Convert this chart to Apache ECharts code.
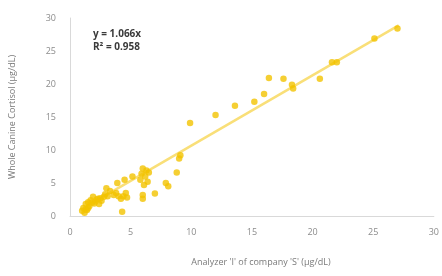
<!DOCTYPE html>
<html>
<head>
<meta charset="utf-8">
<script src="https://cdn.jsdelivr.net/npm/echarts@6/dist/echarts.min.js"></script>
<style>
  html, body { margin: 0; padding: 0; background: #fff; }
  #chart { width: 442px; height: 276px; }
</style>
</head>
<body>
<div id="chart"></div>
<script>
// x = analyzer 'I' (company 'S'), y = whole canine cortisol, ug/dL
var xVals = [
  27.0, 25.1, 21.6, 22.0, 20.6, 18.3, 18.4, 17.6, 16.4, 16.0, 15.2, 13.6, 12.0, 9.9,
  9.1, 9.0, 8.8, 7.9, 8.1, 7.0, 6.0, 6.0,
  6.0, 6.3, 5.9, 6.2, 6.5, 5.8, 6.4, 6.1, 5.15, 4.5, 3.9, 4.3,
  4.6, 4.7, 4.4, 3.8, 4.0, 4.2, 3.0, 3.3, 3.6, 2.9,
  1.9, 2.2, 2.5, 2.8, 2.4, 2.1, 2.6, 3.1,
  1.1, 1.3, 1.5, 1.7, 2.0, 1.2, 1.4, 1.6, 1.8, 1.3, 1.0, 1.5, 2.3
]
var yVals = [
  28.4, 26.9, 23.3, 23.3, 20.8, 19.9, 19.3, 20.8, 20.9, 18.5, 17.3, 16.7, 15.3, 14.1,
  9.2, 8.7, 6.6, 5.0, 4.5, 3.4, 3.2, 2.6,
  7.2, 6.9, 6.4, 6.0, 6.6, 5.5, 5.2, 4.7, 6.0, 5.5, 5.0, 0.65,
  3.5, 2.8, 3.0, 3.5, 3.0, 2.6, 4.2, 3.8, 3.2, 3.3,
  2.9, 2.5, 2.7, 2.9, 1.8, 2.2, 2.3, 3.0,
  1.2, 1.8, 2.1, 2.4, 1.9, 0.5, 0.9, 1.5, 2.0, 1.0, 0.8, 1.2, 2.6
]
var slope = 1.066
var r2 = 0.958
var trendX = [1.3, 27.1]
var xTicks = [0, 5, 10, 15, 20, 25, 30]
var yTicks = [0, 5, 10, 15, 20, 25, 30]

var points = xVals.map(function (x, i) { return [x, yVals[i]] })
var trend = trendX.map(function (x) { return [x, slope * x] })

var chart = echarts.init(document.getElementById('chart'))
chart.setOption({
  animation: false,
  grid: { left: 66, right: 7, top: 18, bottom: 60 },
  xAxis: {
    type: 'value',
    min: xTicks[0],
    max: xTicks[xTicks.length - 1],
    interval: 5,
    name: "Analyzer 'I' of company 'S' (\u00b5g/dL)",
    nameLocation: 'middle',
    nameGap: 42,
    nameTextStyle: { color: '#7a7a7a', fontSize: 9, fontFamily: 'Open Sans', padding: [0, 0, 0, 18] },
    axisLine: { lineStyle: { color: '#d9d9d9', width: 1 } },
    axisTick: { show: false },
    splitLine: { show: false },
    axisLabel: { color: '#8c8c8c', fontSize: 9, fontFamily: 'Open Sans', margin: 12 }
  },
  yAxis: {
    type: 'value',
    min: yTicks[0],
    max: yTicks[yTicks.length - 1],
    interval: 5,
    name: 'Whole Canine Cortisol (\u00b5g/dL)',
    nameLocation: 'middle',
    nameGap: 53,
    nameTextStyle: { color: '#7a7a7a', fontSize: 9, fontFamily: 'Open Sans' },
    axisLine: { show: true, lineStyle: { color: '#d9d9d9', width: 1 } },
    axisTick: { show: false },
    splitLine: { show: false },
    axisLabel: { color: '#8c8c8c', fontSize: 9, fontFamily: 'Open Sans', margin: 14 }
  },
  graphic: [
    {
      type: 'text', left: 93, top: 29,
      style: { text: 'y = ' + slope + 'x', fill: '#3a3a3a', font: 'bold 10px "Open Sans"' }
    },
    {
      type: 'text', left: 93, top: 42,
      style: { text: 'R\u00b2 = ' + r2, fill: '#3a3a3a', font: 'bold 10px "Open Sans"' }
    }
  ],
  series: [
    {
      type: 'line',
      data: trend,
      symbol: 'none',
      lineStyle: { color: '#f9df78', width: 2.5 },
      z: 1
    },
    {
      type: 'scatter',
      data: points,
      symbolSize: 6.5,
      itemStyle: { color: '#f3c300' },
      z: 2
    }
  ]
})
</script>
</body>
</html>
